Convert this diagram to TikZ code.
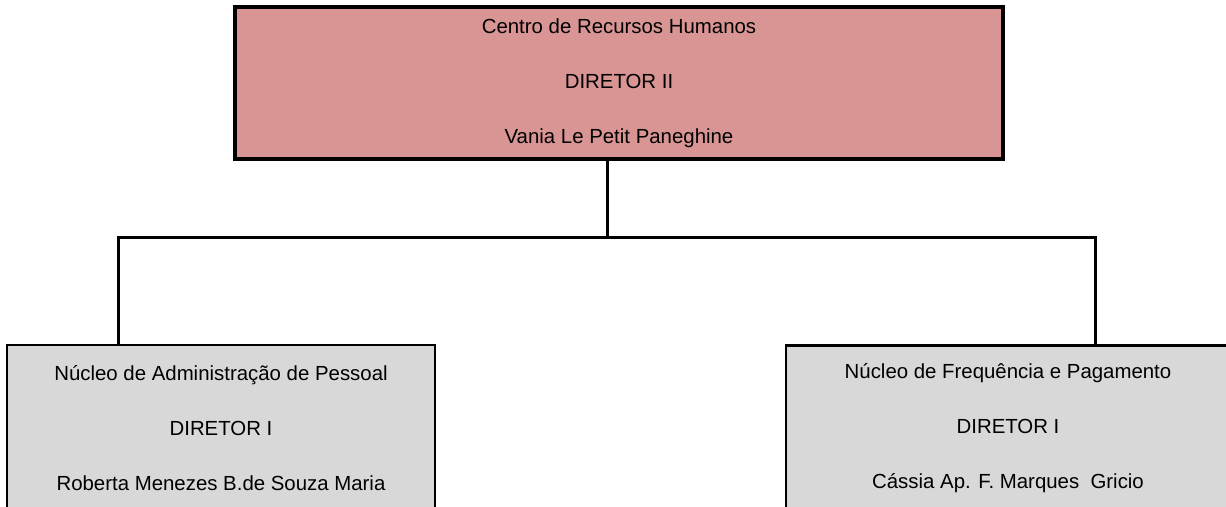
\documentclass[tikz,border=0pt]{standalone}
\usepackage{fontspec}
\setmainfont{Liberation Sans}
\usetikzlibrary{positioning}

\definecolor{diretoria}{RGB}{217,149,148}
\definecolor{nucleo}{RGB}{216,216,216}

\begin{document}
\begin{tikzpicture}[x=1pt, y=-1pt,
    cargo/.style = {draw, align=center, inner sep=0pt,
                    font=\fontsize{20.4pt}{55pt}\selectfont},
    elo/.style = {line width=3pt}]
  \useasboundingbox (0,0) rectangle (1226,506);
  \clip (0,0) rectangle (1226,506);
  % centro
  \node[cargo, fill=diretoria, line width=3.5pt, minimum width=768pt,
        minimum height=152pt] (crh) at (619,83)
        {Centro de Recursos Humanos\\DIRETOR II\\Vania Le Petit Paneghine};
  % nucleos
  \node[cargo, fill=nucleo, line width=2pt, minimum width=428pt,
        minimum height=166pt, anchor=north] (nap) at (221,344)
        {N\'ucleo de Administra\c{c}\~ao de Pessoal\\DIRETOR I\\Roberta Menezes B.de Souza Maria};
  \node[cargo, fill=nucleo, line width=2.5pt, minimum width=444pt,
        minimum height=166pt, anchor=north] (nfp) at (1008,344)
        {N\'ucleo de Frequ\^encia e Pagamento\\DIRETOR I\\C\'assia Ap. F. Marques\ \ Gricio};
  % ligacoes
  \coordinate (hub) at (607,237);
  \coordinate (ldrop) at (118,237);
  \coordinate (rdrop) at (1095,237);
  \draw[elo] (crh.south -| hub) -- (hub);
  \draw[elo] (ldrop |- nap.north) -- (ldrop) -- (rdrop) -- (rdrop |- nfp.north);
\end{tikzpicture}
\end{document}
